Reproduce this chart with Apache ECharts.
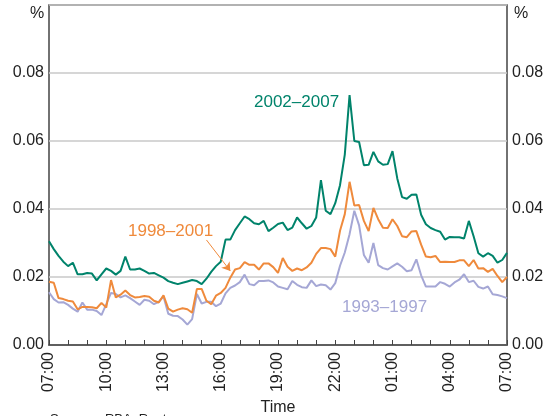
<!DOCTYPE html>
<html>
<head>
<meta charset="utf-8">
<script src="https://cdn.jsdelivr.net/npm/echarts@6/dist/echarts.min.js"></script>
<style>
  html, body { margin: 0; padding: 0; background: #fff; }
  #chart { width: 554px; height: 416px; }
</style>
</head>
<body>
<div id="chart"></div>
<script>
// 15-minute steps from 07:00 to 07:00 the next day
const times = []
for (let i = 0; i <= 96; i++) {
  const h = (7 + Math.floor(i / 4)) % 24
  const m = (i % 4) * 15
  times.push(String(h).padStart(2, '0') + ':' + String(m).padStart(2, '0'))
}

const p2002 = [
  0.0305, 0.0282, 0.0262, 0.0245, 0.0232, 0.0242, 0.0208, 0.0208, 0.0212, 0.0210,
  0.0190, 0.0208, 0.0225, 0.0218, 0.0207, 0.0218, 0.0260, 0.0222, 0.0222, 0.0225,
  0.0218, 0.0210, 0.0212, 0.0205, 0.0198, 0.0188, 0.0183, 0.0179, 0.0183, 0.0187,
  0.0191, 0.0188, 0.0179, 0.0195, 0.0215, 0.0232, 0.0245, 0.0310, 0.0310, 0.0338,
  0.0358, 0.0378, 0.0370, 0.0358, 0.0355, 0.0365, 0.0335, 0.0345, 0.0356, 0.0360,
  0.0338, 0.0345, 0.0375, 0.0358, 0.0342, 0.0350, 0.0375, 0.0485, 0.0395, 0.0385,
  0.0417, 0.0470, 0.0560, 0.0735, 0.0600, 0.0597, 0.0529, 0.0530, 0.0568, 0.0540,
  0.0530, 0.0532, 0.0570, 0.0490, 0.0435, 0.0430, 0.0442, 0.0443, 0.0383, 0.0355,
  0.0344, 0.0338, 0.0333, 0.0310, 0.0318, 0.0317, 0.0317, 0.0313, 0.0365, 0.0320,
  0.0270, 0.0260, 0.0270, 0.0262, 0.0242, 0.0250, 0.0271
]

const p1998 = [
  0.0186, 0.0183, 0.0138, 0.0135, 0.0130, 0.0128, 0.0105, 0.0112, 0.0112, 0.0111,
  0.0108, 0.0124, 0.0110, 0.0191, 0.0140, 0.0148, 0.0160, 0.0147, 0.0140, 0.0141,
  0.0144, 0.0142, 0.0130, 0.0125, 0.0146, 0.0107, 0.0098, 0.0104, 0.0108, 0.0105,
  0.0095, 0.0165, 0.0165, 0.0130, 0.0120, 0.0145, 0.0153, 0.0168, 0.0198, 0.0222,
  0.0226, 0.0244, 0.0236, 0.0236, 0.0222, 0.0240, 0.0240, 0.0229, 0.0212, 0.0256,
  0.0230, 0.0218, 0.0225, 0.0220, 0.0228, 0.0242, 0.0268, 0.0285, 0.0285, 0.0282,
  0.0260, 0.0336, 0.0385, 0.0480, 0.0410, 0.0412, 0.0365, 0.0335, 0.0403, 0.0370,
  0.0345, 0.0344, 0.0370, 0.0350, 0.0320, 0.0317, 0.0334, 0.0335, 0.0295, 0.0260,
  0.0258, 0.0262, 0.0244, 0.0245, 0.0244, 0.0244, 0.0249, 0.0249, 0.0232, 0.0250,
  0.0225, 0.0226, 0.0215, 0.0224, 0.0203, 0.0185, 0.0200
]

const p1993 = [
  0.0155, 0.0135, 0.0125, 0.0126, 0.0118, 0.0107, 0.0098, 0.0125, 0.0104, 0.0104,
  0.0100, 0.0088, 0.0120, 0.0153, 0.0150, 0.0140, 0.0146, 0.0138, 0.0128, 0.0118,
  0.0133, 0.0130, 0.0120, 0.0127, 0.0143, 0.0092, 0.0086, 0.0085, 0.0075, 0.0060,
  0.0076, 0.0150, 0.0122, 0.0127, 0.0127, 0.0114, 0.0122, 0.0152, 0.0168, 0.0175,
  0.0185, 0.0207, 0.0179, 0.0176, 0.0188, 0.0188, 0.0190, 0.0184, 0.0172, 0.0168,
  0.0164, 0.0188, 0.0177, 0.0170, 0.0168, 0.0190, 0.0173, 0.0178, 0.0176, 0.0163,
  0.0182, 0.0233, 0.0272, 0.0326, 0.0395, 0.0352, 0.0265, 0.0242, 0.0300, 0.0235,
  0.0226, 0.0222, 0.0231, 0.0240, 0.0230, 0.0217, 0.0220, 0.0252, 0.0205, 0.0172,
  0.0172, 0.0172, 0.0185, 0.0180, 0.0172, 0.0184, 0.0192, 0.0208, 0.0185, 0.0189,
  0.0171, 0.0166, 0.0172, 0.0149, 0.0147, 0.0143, 0.0138
]

const GREEN = '#00836b'
const ORANGE = '#ef8a3c'
const LAVENDER = '#a5a7d5'
const FONT = 'Liberation Sans, Arial, sans-serif'

const chart = echarts.init(document.getElementById('chart'))

function yAxis(pos) {
  return {
    type: 'value',
    position: pos,
    min: 0,
    max: 0.1,
    interval: 0.02,
    axisLine: { show: false },
    axisTick: { show: false },
    axisLabel: {
      color: '#222',
      fontSize: 16,
      fontFamily: FONT,
      margin: 5,
      formatter: v => (v >= 0.099 ? '' : v.toFixed(2))
    },
    splitLine: { show: pos === 'left', lineStyle: { color: '#c8c8c8', width: 1.5 } }
  }
}

chart.setOption({
  animation: false,
  grid: {
    left: 49, right: 47, top: 5, bottom: 71,
    outerBoundsMode: 'none',
    show: true, borderColor: '#444', borderWidth: 1.5
  },
  xAxis: {
    type: 'category',
    boundaryGap: false,
    data: times,
    name: 'Time',
    nameLocation: 'middle',
    nameGap: 53,
    nameTextStyle: { color: '#222', fontSize: 16, fontFamily: FONT },
    axisLine: { lineStyle: { color: '#444', width: 1.5 } },
    axisTick: {
      inside: true,
      length: 5,
      interval: i => i % 4 === 0,
      lineStyle: { color: '#444' }
    },
    axisLabel: {
      interval: i => i % 12 === 0,
      rotate: 90,
      margin: 7,
      color: '#222',
      fontSize: 16,
      fontFamily: FONT
    },
    splitLine: { show: false }
  },
  yAxis: [yAxis('left'), yAxis('right')],
  series: [
    {
      name: '1993–1997',
      type: 'line',
      data: p1993,
      showSymbol: false,
      lineStyle: { color: LAVENDER, width: 2 },
      itemStyle: { color: LAVENDER }
    },
    {
      name: '1998–2001',
      type: 'line',
      data: p1998,
      showSymbol: false,
      lineStyle: { color: ORANGE, width: 2 },
      itemStyle: { color: ORANGE },
      markLine: {
        silent: true,
        symbol: ['none', 'arrow'],
        symbolSize: 8,
        label: { show: false },
        lineStyle: { color: ORANGE, width: 1, type: 'solid' },
        data: [[{ coord: [32.7, 0.0309] }, { coord: [38.4, 0.0218] }]]
      }
    },
    {
      name: '2002–2007',
      type: 'line',
      data: p2002,
      showSymbol: false,
      lineStyle: { color: GREEN, width: 2 },
      itemStyle: { color: GREEN }
    }
  ],
  graphic: [
    { type: 'text', left: 30, top: 6, style: { text: '%', fill: '#222', font: '16px ' + FONT } },
    { type: 'text', left: 514, top: 6, style: { text: '%', fill: '#222', font: '16px ' + FONT } },
    { type: 'text', left: 254, top: 94, style: { text: '2002–2007', fill: GREEN, font: '17px ' + FONT } },
    { type: 'text', left: 128, top: 223, style: { text: '1998–2001', fill: ORANGE, font: '17px ' + FONT } },
    { type: 'text', left: 342, top: 299, style: { text: '1993–1997', fill: LAVENDER, font: '17px ' + FONT } },
    { type: 'text', left: 50, top: 413, style: { text: 'Sources: RBA; Reuters', fill: '#222', font: '13px ' + FONT } }
  ]
})
</script>
</body>
</html>
